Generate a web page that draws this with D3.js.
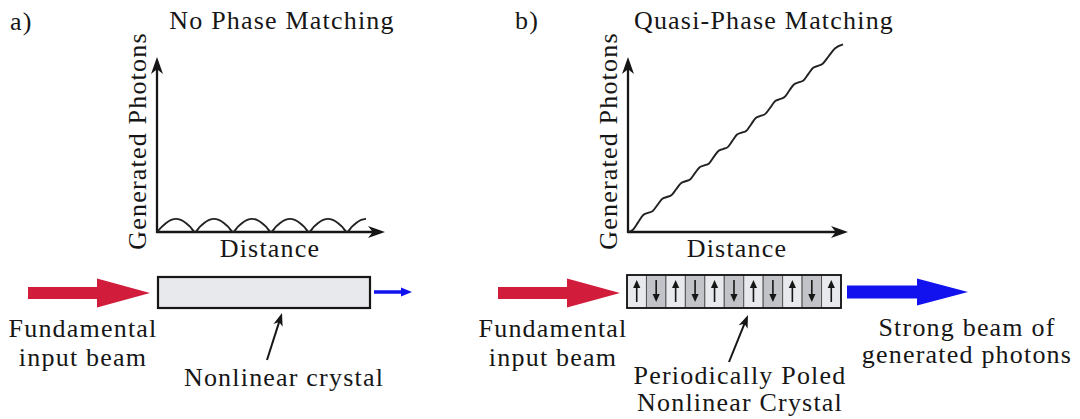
<!DOCTYPE html>
<html><head><meta charset="utf-8">
<script src="https://cdn.jsdelivr.net/npm/d3@7"></script>
<style>
body{margin:0;background:#fff}
svg{display:block}
</style>
</head><body>
<svg id="chart" width="1080" height="419"></svg>
<script>
// ---------- data ----------
const panelLabels = ["a)", "b)"];
const panelTitles = ["No Phase Matching", "Quasi-Phase Matching"];
const xAxisLabel = "Distance";
const yAxisLabel = "Generated Photons";

// No phase matching: generated photons oscillate along the crystal
const npmDistance = [0,0.25,0.5,0.75,1,1.25,1.5,1.75,2,2.25,2.5,2.75,3,3.25,3.5,3.75,4,4.25,4.5,4.75,5,5.25,5.5,5.75,6,6.25,6.5,6.75,7,7.25,7.5,7.75,8,8.25,8.5,8.75,9,9.25,9.5,9.75,10,10.25,10.5,10.75,11];
const npmPhotons  = [0,0.29,0.53,0.69,0.75,0.69,0.53,0.29,0,0.29,0.53,0.69,0.75,0.69,0.53,0.29,0,0.29,0.53,0.69,0.75,0.69,0.53,0.29,0,0.29,0.53,0.69,0.75,0.69,0.53,0.29,0,0.29,0.53,0.69,0.75,0.69,0.53,0.29,0,0.29,0.53,0.69,0.75];

// Quasi-phase matching: stepwise growth
const qpmDistance = [0,0.27,0.55,0.82,1.09,1.35,1.61,1.86,2.12,2.38,2.63,2.89,3.14,3.40,3.65,3.91,4.16,4.42,4.67,4.93,5.18,5.44,5.69,5.95,6.20,6.46,6.72,6.97,7.23,7.49,7.76,8.02,8.28,8.54,8.79,9.05,9.30,9.57,9.83,10.10,10.36,10.62,10.95,11.30,11.73];
const qpmPhotons  = [0,0.13,0.55,0.96,1.09,1.20,1.55,1.89,2.00,2.11,2.45,2.79,2.90,3.01,3.36,3.70,3.81,3.92,4.28,4.63,4.74,4.85,5.21,5.57,5.68,5.79,6.16,6.52,6.63,6.75,7.11,7.47,7.59,7.71,8.07,8.43,8.55,8.66,9.02,9.38,9.49,9.62,10.05,10.50,10.72];

// Periodically poled crystal domains
const domainPolarity = ["up","down","up","down","up","down","up","down","up","down","up"];

const leftBeamText = ["Fundamental", "input beam"];
const leftCrystalText = ["Nonlinear crystal"];
const rightBeamText = ["Fundamental", "input beam"];
const rightCrystalText = ["Periodically Poled", "Nonlinear Crystal"];
const outputText = ["Strong beam of", "generated photons"];

// ---------- drawing ----------
const FONT = "'Liberation Serif', 'DejaVu Serif', 'Noto Serif', Tinos, 'Nimbus Roman', 'Nimbus Roman No9 L', FreeSerif, 'Latin Modern Roman', 'CMU Serif', Georgia, Times, serif";
const svg = d3.select("#chart");
svg.append("rect").attr("width",1080).attr("height",419).attr("fill","#fff");

const INK = "#161616";
const RED = "#d21c3b";
const BLUE = "#1212ee";
const LIGHT = "#e8e9ec";
const DARK = "#c1c3c8";

function txt(g, x, yy, s, anchor) {
  return g.append("text").attr("x", x).attr("y", yy)
    .attr("font-family", FONT).attr("font-size", 26).attr("letter-spacing", "1.2px")
    .attr("fill", INK).attr("text-anchor", anchor || "start").text(s);
}

const y = d3.scaleLinear().domain([0, 10]).range([232, 57]);
const xL = d3.scaleLinear().domain([0, 12]).range([157, 385]);
const xR = d3.scaleLinear().domain([0, 12]).range([628, 848]);

function stealth(g, x, yy, angle, len, half, fill) {
  g.append("path")
    .attr("d", `M0,0 L${-len},${-half} L${-len*0.72},0 L${-len},${half} Z`)
    .attr("transform", `translate(${x},${yy}) rotate(${angle})`)
    .attr("fill", fill || INK);
}

function drawAxes(x) {
  const g = svg.append("g");
  const x0 = x(0), y0 = y(0), xt = x(12), yt = y(10);
  g.append("line").attr("x1", x0).attr("y1", y0).attr("x2", xt - 8).attr("y2", y0)
    .attr("stroke", INK).attr("stroke-width", 2.3);
  g.append("line").attr("x1", x0).attr("y1", y0 + 1.1).attr("x2", x0).attr("y2", yt + 8)
    .attr("stroke", INK).attr("stroke-width", 2.3);
  stealth(g, xt, y0, 0, 17, 6);
  stealth(g, x0, yt, -90, 17, 6);
  txt(g, (x0 + xt) / 2 - 1, 257, xAxisLabel, "middle");
  txt(g, 0, 0, yAxisLabel, "middle").attr("transform", `translate(${x0 - 11},${141}) rotate(-90)`);
}
drawAxes(xL);
drawAxes(xR);

const lineL = d3.line().x((d, i) => xL(npmDistance[i])).y(d => y(d)).curve(d3.curveMonotoneX);
svg.append("path").datum(npmPhotons).attr("d", lineL).attr("fill", "none")
  .attr("stroke", "#222").attr("stroke-width", 1.9);
const lineR = d3.line().x((d, i) => xR(qpmDistance[i])).y(d => y(d)).curve(d3.curveMonotoneX);
svg.append("path").datum(qpmPhotons).attr("d", lineR).attr("fill", "none")
  .attr("stroke", "#222").attr("stroke-width", 1.9);

// titles and panel labels
txt(svg, 10, 30, panelLabels[0]);
txt(svg, 515, 29, panelLabels[1]);
txt(svg, 282, 29, panelTitles[0], "middle");
txt(svg, 764, 29, panelTitles[1], "middle");

// block arrows
function blockArrow(x0, x1, cy, sh, hh, hl, fill) {
  const xb = x1 - hl;
  svg.append("path")
    .attr("d", `M${x0},${cy - sh} L${xb},${cy - sh} L${xb},${cy - hh} L${x1},${cy} L${xb},${cy + hh} L${xb},${cy + sh} L${x0},${cy + sh} Z`)
    .attr("fill", fill);
}
blockArrow(28, 150, 293, 6, 14.5, 53, RED);
blockArrow(498, 620, 293, 6, 14.5, 53, RED);
blockArrow(847, 968, 292, 6.5, 13.5, 51, BLUE);
blockArrow(374, 412, 292, 1.7, 4.5, 11, BLUE);

// left crystal
svg.append("rect").attr("x", 158).attr("y", 277).attr("width", 212).attr("height", 31)
  .attr("fill", LIGHT).attr("stroke", INK).attr("stroke-width", 2.2);

// right crystal (periodically poled)
const band = d3.scaleBand().domain(d3.range(domainPolarity.length)).range([627, 841]);
const cg = svg.append("g");
cg.selectAll("rect.dom").data(domainPolarity).join("rect")
  .attr("x", (d, i) => band(i)).attr("y", 275).attr("width", band.bandwidth()).attr("height", 33)
  .attr("fill", d => d === "up" ? LIGHT : DARK).attr("stroke", "#555").attr("stroke-width", 1);
cg.append("rect").attr("x", 627).attr("y", 275).attr("width", 214).attr("height", 33)
  .attr("fill", "none").attr("stroke", INK).attr("stroke-width", 1.8);
domainPolarity.forEach((d, i) => {
  const cx = band(i) + band.bandwidth() / 2;
  const top = 280, bot = 302;
  if (d === "up") {
    cg.append("line").attr("x1", cx).attr("x2", cx).attr("y1", bot).attr("y2", top + 5).attr("stroke", INK).attr("stroke-width", 1.6);
    cg.append("path").attr("d", `M${cx},${top} L${cx - 3.6},${top + 8} L${cx + 3.6},${top + 8} Z`).attr("fill", INK);
  } else {
    cg.append("line").attr("x1", cx).attr("x2", cx).attr("y1", top).attr("y2", bot - 5).attr("stroke", INK).attr("stroke-width", 1.6);
    cg.append("path").attr("d", `M${cx},${bot} L${cx - 3.6},${bot - 8} L${cx + 3.6},${bot - 8} Z`).attr("fill", INK);
  }
});

// pointer arrows
function pointer(x0, y0, x1, y1) {
  const ang = Math.atan2(y1 - y0, x1 - x0) * 180 / Math.PI;
  const len = Math.hypot(x1 - x0, y1 - y0);
  const ux = (x1 - x0) / len, uy = (y1 - y0) / len;
  svg.append("line").attr("x1", x0).attr("y1", y0).attr("x2", x1 - ux * 8).attr("y2", y1 - uy * 8)
    .attr("stroke", INK).attr("stroke-width", 2);
  stealth(svg, x1, y1, ang, 13, 4.8);
}
pointer(267, 360, 282, 313);
pointer(729, 362, 748, 315);

// bottom texts
function lines(arr, cx, y0, dy) {
  arr.forEach((t, i) => txt(svg, cx, y0 + i * dy, t, "middle"));
}
lines(leftBeamText, 83, 337, 29);
lines(leftCrystalText, 284, 386, 29);
lines(rightBeamText, 553, 337, 29);
lines(rightCrystalText, 740, 384, 27);
lines(outputText, 967, 336, 27);
</script>
</body></html>
